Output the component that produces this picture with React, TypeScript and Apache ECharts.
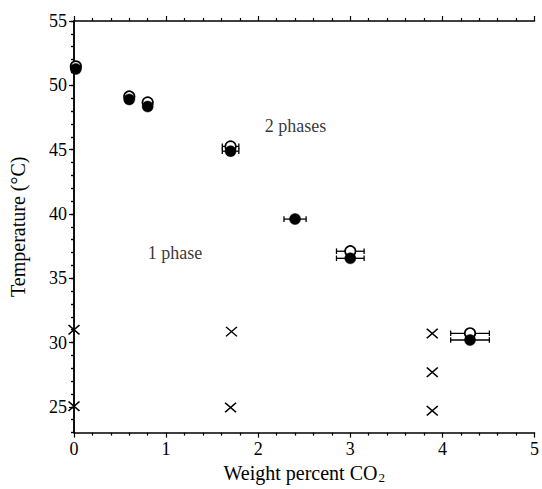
import React, { useEffect, useRef } from "react";
import * as echarts from "echarts";

// ---- data ----
const xTicks = [0, 1, 2, 3, 4, 5];
const yLabelValues = [25, 30, 35, 40, 45, 50, 55];

// open circles: [weight % CO2, temperature °C, x error]
const openPoints: [number, number, number][] = [
  [0.02, 51.47, 0],
  [0.6, 49.13, 0],
  [0.8, 48.67, 0],
  [1.7, 45.25, 0.09],
  [3.0, 37.1, 0.15],
  [4.3, 30.72, 0.21],
];

// filled circles: [weight % CO2, temperature °C, x error]
const filledPoints: [number, number, number][] = [
  [0.02, 51.27, 0],
  [0.6, 48.9, 0],
  [0.8, 48.35, 0],
  [1.7, 44.88, 0.09],
  [2.4, 39.6, 0.12],
  [3.0, 36.55, 0.15],
  [4.3, 30.2, 0.21],
];

// one-phase observations (crosses)
const crossPoints: [number, number][] = [
  [0.0, 31.0],
  [0.0, 25.05],
  [1.71, 30.85],
  [1.7, 24.95],
  [3.89, 30.7],
  [3.89, 27.7],
  [3.89, 24.7],
];

// region labels: [x, y, text]
const regionLabels: [number, number, string][] = [
  [2.07, 46.8, "2 phases"],
  [0.8, 37.0, "1 phase"],
];

const FONT = "'Liberation Serif', 'Times New Roman', serif";

export default function App() {
  const ref = useRef<HTMLDivElement>(null);

  useEffect(() => {
    document.body.style.margin = "0";
    if (!ref.current) return;
    const chart = echarts.init(ref.current, undefined, { renderer: "svg" });

    const errData = [...openPoints, ...filledPoints].filter((p) => p[2] > 0);

    const renderErr = (params: any, api: any) => {
      const x = api.value(0);
      const y = api.value(1);
      const e = api.value(2);
      const p1 = api.coord([x - e, y]);
      const p2 = api.coord([x + e, y]);
      const cap = 2.8;
      const st = { stroke: "#000", lineWidth: 1.3 };
      return {
        type: "group",
        children: [
          { type: "line", shape: { x1: p1[0], y1: p1[1], x2: p2[0], y2: p2[1] }, style: st },
          { type: "line", shape: { x1: p1[0], y1: p1[1] - cap, x2: p1[0], y2: p1[1] + cap }, style: st },
          { type: "line", shape: { x1: p2[0], y1: p2[1] - cap, x2: p2[0], y2: p2[1] + cap }, style: st },
        ],
      };
    };

    const axisLine = { show: true, lineStyle: { color: "#000", width: 1.5 } };
    const tickStyle = { color: "#000", width: 1.2 };

    chart.setOption({
      animation: false,
      backgroundColor: "#fff",
      grid: { left: 71, right: 5, top: 21, bottom: 52, containLabel: false },
      xAxis: [
        {
          type: "value",
          position: "bottom",
          min: xTicks[0],
          max: xTicks[xTicks.length - 1],
          interval: 1,
          axisLine,
          axisTick: { show: true, length: 5, lineStyle: tickStyle },
          minorTick: { show: true, splitNumber: 5, length: 3, lineStyle: tickStyle },
          splitLine: { show: false },
          axisLabel: { color: "#000", fontFamily: FONT, fontSize: 18, margin: 7 },
          name: "{a|Weight percent CO}{b|2}",
          nameLocation: "middle",
          nameGap: 27,
          nameTextStyle: {
            color: "#000",
            fontFamily: FONT,
            fontSize: 20,
            rich: {
              a: { fontFamily: FONT, fontSize: 20, color: "#000" },
              b: { fontFamily: FONT, fontSize: 13, color: "#000", padding: [10, 0, 0, 1] },
            },
          },
        },
        {
          type: "value",
          position: "top",
          min: xTicks[0],
          max: xTicks[xTicks.length - 1],
          interval: 1,
          axisLine,
          axisTick: { show: true, length: 5, lineStyle: tickStyle },
          minorTick: { show: true, splitNumber: 5, length: 3, lineStyle: tickStyle },
          splitLine: { show: false },
          axisLabel: { show: false },
        },
      ],
      yAxis: [
        {
          type: "value",
          position: "left",
          min: 23,
          max: 55,
          interval: 1,
          axisLine,
          axisTick: { show: true, length: 3, lineStyle: tickStyle },
          splitLine: { show: false },
          axisLabel: {
            color: "#000",
            fontFamily: FONT,
            fontSize: 18,
            margin: 7,
            formatter: (v: number) => (yLabelValues.includes(v) ? String(v) : ""),
          },
          name: "Temperature (°C)",
          nameLocation: "middle",
          nameGap: 46,
          nameTextStyle: { color: "#000", fontFamily: FONT, fontSize: 20 },
        },
        {
          type: "value",
          position: "right",
          min: 23,
          max: 55,
          interval: 1,
          axisLine,
          axisTick: { show: true, inside: true, length: 3, lineStyle: tickStyle },
          splitLine: { show: false },
          axisLabel: { show: false },
        },
        {
          type: "value",
          position: "left",
          min: 23,
          max: 55,
          interval: 1,
          axisLine: { show: false },
          axisTick: { show: true, length: 5, lineStyle: tickStyle, customValues: yLabelValues },
          splitLine: { show: false },
          axisLabel: { show: false },
        },
      ],
      series: [
        {
          type: "custom",
          name: "error bars",
          xAxisIndex: 0,
          yAxisIndex: 0,
          renderItem: renderErr,
          data: errData,
          encode: { x: 0, y: 1 },
          z: 2,
          silent: true,
        },
        {
          type: "scatter",
          name: "open",
          xAxisIndex: 0,
          yAxisIndex: 0,
          symbol: "circle",
          symbolSize: 10.5,
          itemStyle: { color: "#fff", borderColor: "#000", borderWidth: 1.7, opacity: 1 },
          data: openPoints.map((p) => [p[0], p[1]]),
          z: 3,
          silent: true,
        },
        {
          type: "scatter",
          name: "filled",
          xAxisIndex: 0,
          yAxisIndex: 0,
          symbol: "circle",
          symbolSize: 11,
          itemStyle: { color: "#000", borderColor: "#000", borderWidth: 0.5, opacity: 1 },
          data: filledPoints.map((p) => [p[0], p[1]]),
          z: 4,
          silent: true,
        },
        {
          type: "scatter",
          name: "crosses",
          xAxisIndex: 0,
          yAxisIndex: 0,
          symbol: "path://M0,0L10,10M10,0L0,10",
          symbolSize: [11, 9.5],
          itemStyle: { color: "none", borderColor: "#000", borderWidth: 1.5, opacity: 1 },
          data: crossPoints,
          z: 4,
          silent: true,
        },
        {
          type: "scatter",
          name: "labels",
          xAxisIndex: 0,
          yAxisIndex: 0,
          symbolSize: 0,
          data: regionLabels,
          label: {
            show: true,
            position: [0, 0],
            align: "left",
            verticalAlign: "middle",
            color: "#000",
            fontFamily: FONT,
            fontSize: 18,
            formatter: (p: any) => p.data[2],
          },
          silent: true,
        },
      ],
    });

    return () => chart.dispose();
  }, []);

  return <div ref={ref} style={{ width: 542, height: 489 }} />;
}
